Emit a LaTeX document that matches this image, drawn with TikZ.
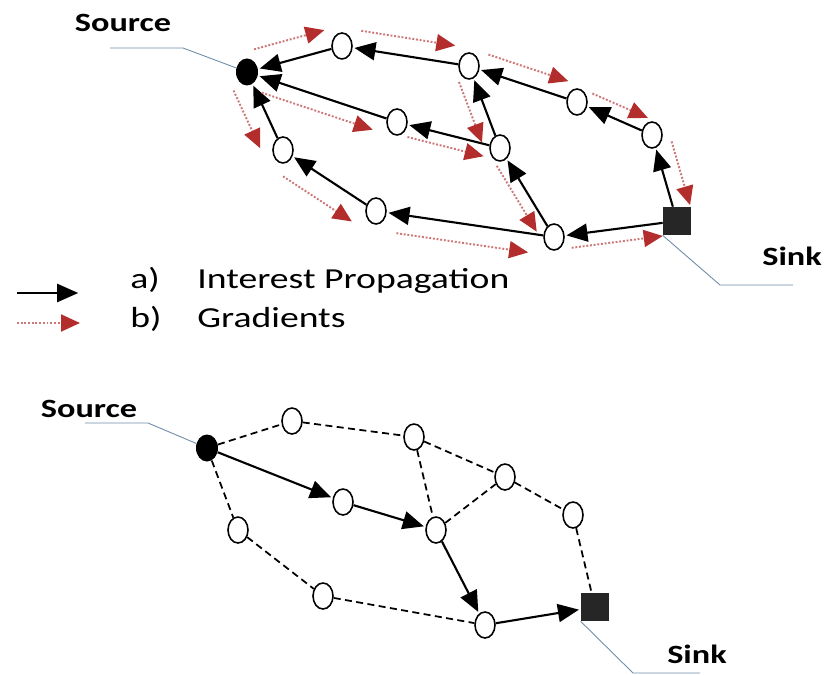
\documentclass[tikz,border=0pt]{standalone}
\usepackage{fontspec}
\setmainfont{Carlito}[FakeStretch=1.3]
\usetikzlibrary{arrows.meta,shapes.geometric,calc}

\definecolor{gradred}{RGB}{180,45,45}
\definecolor{leadblue}{RGB}{110,140,170}

\tikzset{
  relay/.style={ellipse, draw, line width=0.9pt, fill=white,
    minimum width=0.4cm, minimum height=0.52cm, inner sep=0pt},
  source/.style={ellipse, fill=black, minimum width=0.44cm,
    minimum height=0.54cm, inner sep=0pt},
  sink/.style={rectangle, fill=black!85, minimum size=0.56cm, inner sep=0pt},
  interest/.style={-{Triangle[length=0.42cm,width=0.36cm]},
    line width=1.2pt, shorten >=1pt},
  grad/.style={gradred!65, densely dotted, line width=1.1pt,
    -{Triangle[length=0.38cm,width=0.34cm,color=gradred]}},
  link/.style={dash pattern=on 4pt off 2.5pt, line width=1pt},
  leader/.style={leadblue, line width=0.5pt},
  lbl/.style={font=\bfseries\fontsize{15}{17}\selectfont, anchor=base},
  legtxt/.style={font=\fontsize{16.5}{18}\selectfont, anchor=base west,
    inner sep=0pt}
}

% gradient arrow beside an edge: from, to, offset, side
\newcommand{\gradient}[4]{%
  \draw[grad] ($(#1)!0.13!(#2)!#3!#4:(#2)$) -- ($(#1)!0.87!(#2)!#3!#4:(#2)$);}

\begin{document}
\begin{tikzpicture}[x=0.02cm, y=-0.02cm]
  \useasboundingbox (0,0) rectangle (827,675);

  % ---- top: interest propagation and gradients
  \node[source] (src) at (247,72) {};
  \node[relay] (n1) at (342,46) {};
  \node[relay] (n2) at (469,66) {};
  \node[relay] (n3) at (577,102) {};
  \node[relay] (n4) at (652,135) {};
  \node[sink] (snk) at (677,221) {};
  \node[relay] (n5) at (554,237) {};
  \node[relay] (n6) at (500,148) {};
  \node[relay] (n7) at (397,122) {};
  \node[relay] (n8) at (283,150) {};
  \node[relay] (n9) at (376,211) {};

  \foreach \a/\b in {snk/n4, n4/n3, n3/n2, n2/n1, n1/src, snk/n5, n5/n6,
                     n6/n2, n6/n7, n7/src, n5/n9, n9/n8, n8/src}
    \draw[interest] (\a) -- (\b);

  \gradient{src}{n1}{0.4cm}{90}
  \gradient{n1}{n2}{0.36cm}{90}
  \gradient{n2}{n3}{0.34cm}{90}
  \gradient{n3}{n4}{0.28cm}{90}
  \gradient{n4}{snk}{0.34cm}{90}
  \gradient{n5}{snk}{0.26cm}{-90}
  \gradient{n9}{n5}{0.38cm}{-90}
  \gradient{n8}{n9}{0.44cm}{-90}
  \gradient{src}{n8}{0.4cm}{-90}
  \gradient{src}{n7}{0.3cm}{-90}
  \gradient{n7}{n6}{0.24cm}{-90}
  \gradient{n2}{n6}{0.3cm}{-90}
  \gradient{n6}{n5}{0.24cm}{-90}

  \node[lbl] (lsrc) at (123,32) {Source};
  \coordinate (lsrc1) at (110,48);
  \coordinate (lsrc2) at (183,48);
  \draw[leader] (lsrc1) -- (lsrc2) -- (src);
  \node[lbl] (lsnk) at (792,265) {Sink};
  \coordinate (lsnk1) at (720,285);
  \coordinate (lsnk2) at (793,285);
  \draw[leader] (snk.south west) -- (lsnk1) -- (lsnk2);

  % ---- legend
  \coordinate (ka) at (17,293);
  \coordinate (kb) at (80,293);
  \draw[interest] (ka) -- (kb);
  \coordinate (kc) at (17,323);
  \coordinate (kd) at (80,323);
  \draw[grad] (kc) -- (kd);
  \node[legtxt] (ta) at (130,288) {a)};
  \node[legtxt] (tia) at (197,288) {Interest Propagation};
  \node[legtxt] (tb) at (130,327) {b)};
  \node[legtxt] (tgb) at (197,327) {Gradients};

  % ---- bottom: reinforced path
  \node[source] (src2) at (207,448) {};
  \node[relay] (b1) at (292,421) {};
  \node[relay] (b2) at (414,437) {};
  \node[relay] (b3) at (505,477) {};
  \node[relay] (b4) at (573,515) {};
  \node[sink] (snk2) at (595,607) {};
  \node[relay] (b5) at (485,625) {};
  \node[relay] (b6) at (436,530) {};
  \node[relay] (b7) at (343,502) {};
  \node[relay] (b8) at (238,530) {};
  \node[relay] (b9) at (323,596) {};

  \foreach \a/\b in {src2/b1, b1/b2, b2/b6, b2/b3, b6/b3, b3/b4, b4/snk2,
                     src2/b8, b8/b9, b9/b5}
    \draw[link] (\a) -- (\b);
  \foreach \a/\b in {src2/b7, b7/b6, b6/b5, b5/snk2}
    \draw[interest] (\a) -- (\b);

  \node[lbl] (lsrc3) at (89,417) {Source};
  \coordinate (lsrc4) at (85,423);
  \coordinate (lsrc5) at (148,423);
  \draw[leader] (lsrc4) -- (lsrc5) -- (src2);
  \node[lbl] (lsnk3) at (697,663) {Sink};
  \coordinate (lsnk4) at (633,673);
  \coordinate (lsnk5) at (700,673);
  \draw[leader] (snk2.south west) -- (lsnk4) -- (lsnk5);
\end{tikzpicture}
\end{document}
